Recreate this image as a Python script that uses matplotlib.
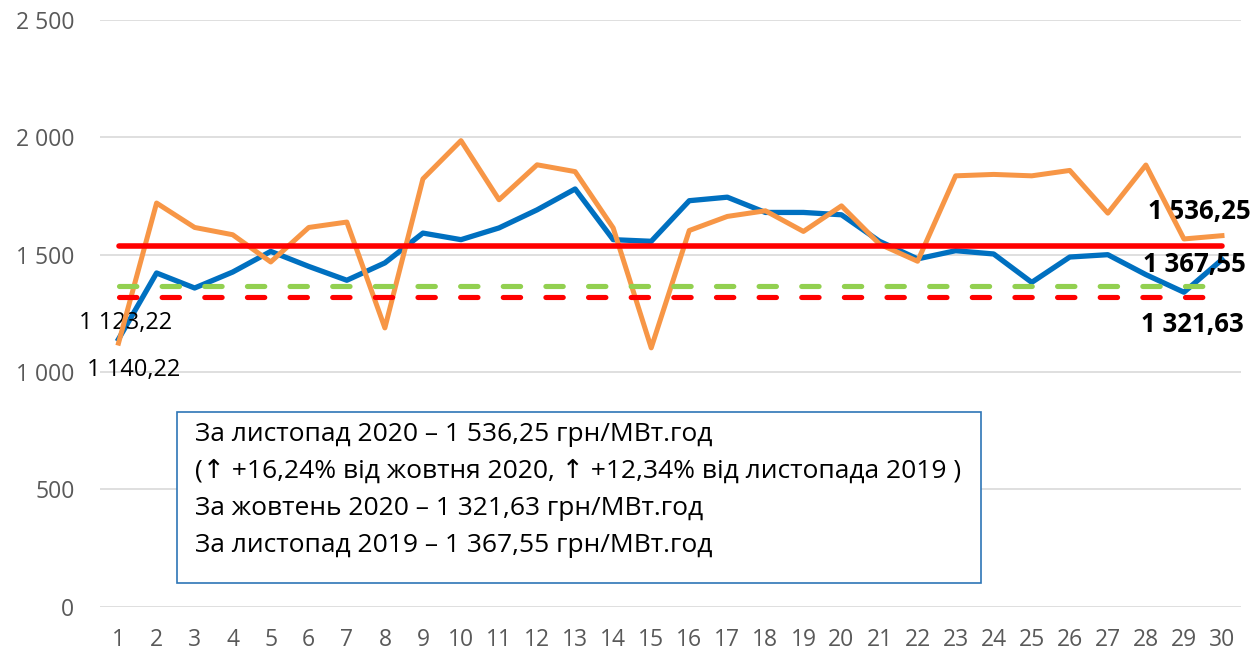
import matplotlib.pyplot as plt
from matplotlib.patches import Rectangle

plt.rcParams['lines.scale_dashes'] = False

days = list(range(1, 31))

price_blue = [1140.22, 1422, 1358, 1426, 1514, 1450, 1391, 1465, 1592, 1564,
              1614, 1691, 1780, 1564, 1557, 1730, 1745, 1680, 1680, 1670,
              1557, 1482, 1517, 1503, 1382, 1490, 1500, 1415, 1340, 1479]
price_orange = [1123.22, 1720, 1616, 1585, 1469, 1616, 1639, 1188, 1823, 1986,
                1734, 1883, 1854, 1614, 1103, 1603, 1663, 1687, 1599, 1708,
                1545, 1472, 1836, 1842, 1836, 1859, 1677, 1882, 1567, 1581]

avg_nov_2020 = 1536.25
avg_nov_2019 = 1367.55
avg_oct_2020 = 1321.63

y_ticks = [0, 500, 1000, 1500, 2000, 2500]
y_tick_labels = ['0', '500', '1 000', '1 500', '2 000', '2 500']

box_lines = [
    'За листопад 2020 – 1 536,25 грн/МВт.год',
    '(↑ +16,24% від жовтня 2020, ↑ +12,34% від листопада 2019 )',
    'За жовтень 2020 – 1 321,63 грн/МВт.год',
    'За листопад 2019 – 1 367,55 грн/МВт.год',
]

W, H = 1256, 653
fig = plt.figure(figsize=(W / 100, H / 100), dpi=100)
ax = fig.add_axes([99.5 / W, 46.3 / H, 1141.5 / W, 586.7 / H])

font = ['Open Sans', 'DejaVu Sans']

ax.plot(days, price_blue, color='#0070C0', lw=3.8, solid_joinstyle='round', zorder=3)
ax.plot(days, price_orange, color='#F79646', lw=3.6, solid_joinstyle='round', zorder=4)

dash = (0, (12.5, 18.2))
ax.plot(days, [avg_nov_2019] * len(days), color='#92D050', lw=3.7,
        linestyle=dash, dash_capstyle='round', zorder=5)
ax.plot(days, [avg_oct_2020] * len(days), color='#FF0000', lw=3.7,
        linestyle=dash, dash_capstyle='round', zorder=5)
ax.plot(days, [avg_nov_2020] * len(days), color='#FF0000', lw=4.0,
        solid_capstyle='round', zorder=6)

ax.set_xlim(0.5, 30.5)
ax.set_ylim(0, 2500)
ax.set_yticks(y_ticks)
ax.set_yticklabels(y_tick_labels)
ax.set_xticks(days)
ax.set_xticklabels([str(d) for d in days])
ax.grid(axis='y', color='#D9D9D9', lw=1.2)
ax.set_axisbelow(True)
for s in ax.spines.values():
    s.set_visible(False)
ax.tick_params(length=0, colors='#595959', labelsize=16.5)
ax.tick_params(axis='y', pad=18)
ax.tick_params(axis='x', pad=15)
for lab in ax.get_xticklabels() + ax.get_yticklabels():
    lab.set_family(font)

# data labels
ax.annotate('1 536,25', xy=(30, avg_nov_2020), xytext=(-16, 25), textcoords='offset points',
            ha='center', va='center', fontsize=18.5, fontweight='bold', family=font)
ax.annotate('1 367,55', xy=(30, avg_nov_2019), xytext=(-20, 15), textcoords='offset points',
            ha='center', va='center', fontsize=18.5, fontweight='bold', family=font)
ax.annotate('1 321,63', xy=(30, avg_oct_2020), xytext=(-21.5, -20), textcoords='offset points',
            ha='center', va='center', fontsize=18.5, fontweight='bold', family=font)
ax.annotate('1 123,22', xy=(1, price_orange[0]), xytext=(5, 14.5), textcoords='offset points',
            ha='center', va='center', fontsize=17, family=font)
ax.annotate('1 140,22', xy=(1, price_blue[0]), xytext=(11, -22), textcoords='offset points',
            ha='center', va='center', fontsize=17, family=font)

# text box
fig.patches.append(Rectangle((177 / W, 1 - 583 / H), (981 - 177) / W, (583 - 412) / H,
                             transform=fig.transFigure, fill=True, facecolor='white',
                             edgecolor='#2E75B6', lw=1.2, zorder=10))
for i, line in enumerate(box_lines):
    fig.text(195 / W, 1 - (441 + i * 37) / H, line, ha='left', va='baseline',
             fontsize=19, family=font, color='black', zorder=11)

fig.savefig('out.png', dpi=100)
